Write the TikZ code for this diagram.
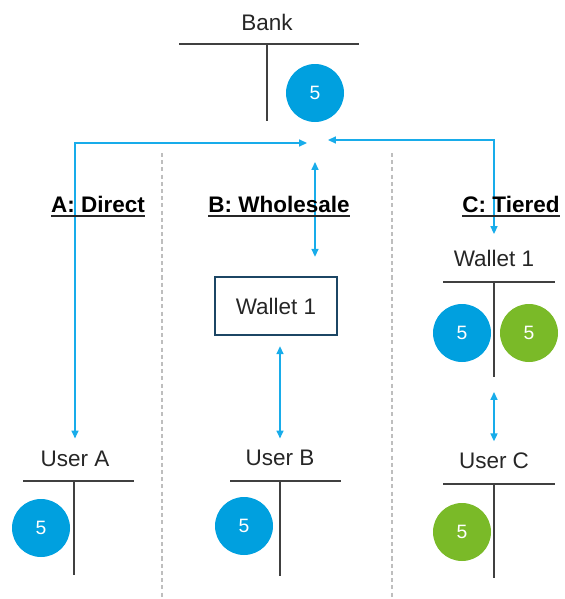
\documentclass[tikz,border=0pt]{standalone}
\usepackage{fontspec}
\setmainfont{Liberation Sans}
\usepackage{tikz}
\usetikzlibrary{arrows.meta}
\definecolor{coinblue}{RGB}{0,160,223}
\definecolor{coingreen}{RGB}{122,186,40}
\definecolor{flowblue}{RGB}{24,172,234}
\definecolor{boxnavy}{RGB}{28,70,100}
\definecolor{rulegray}{RGB}{64,64,64}
\definecolor{sepgray}{RGB}{190,190,190}

\begin{document}
\begin{tikzpicture}[>={Triangle[length=4.5pt,width=4pt]},
    acct/.style={font=\fontsize{12.8}{15}\selectfont, text=black!85},
    head/.style={font=\fontsize{12.8}{15}\selectfont\bfseries, inner sep=0pt, anchor=base},
    coin/.style={circle, minimum size=1.16cm, inner sep=0pt, text=white,
                 font=\fontsize{11}{13}\selectfont},
    tline/.style={draw=rulegray, line width=0.85pt},
    flow/.style={draw=flowblue, line width=0.85pt, <->},
    sepline/.style={draw=sepgray, line width=0.6pt, dash pattern=on 2.3pt off 1.8pt}]

  \useasboundingbox (0,0) rectangle (11.3,-11.98);

  % central bank account
  \node[acct] (bank) at (5.34,-0.44) {Bank};
  \draw[tline] (3.58,-0.88) -- (7.18,-0.88);
  \draw[tline] (5.34,-0.88) -- (5.34,-2.42);
  \node[coin, fill=coinblue] (bankcoin) at (6.30,-1.86) {5};

  \coordinate (hubA) at (6.14,-2.86);
  \coordinate (hubB) at (6.30,-3.24);
  \coordinate (hubC) at (6.56,-2.80);

  % column separators
  \draw[sepline] (3.24,-3.06) -- (3.24,-11.98);
  \draw[sepline] (7.84,-3.06) -- (7.84,-11.98);

  % A: direct
  \node[acct] (usera) at (1.50,-9.18) {User A};
  \draw[tline] (0.46,-9.62) -- (2.68,-9.62);
  \draw[tline] (1.48,-9.62) -- (1.48,-11.50);
  \node[coin, fill=coinblue] (coina) at (0.82,-10.56) {5};
  \draw[flow, shorten >=0.13cm] (hubA) -| (usera.north);

  % B: wholesale
  \node[draw=boxnavy, line width=1.4pt, minimum width=2.44cm, minimum height=1.16cm,
        acct] (walletb) at (5.52,-6.12) {Wallet 1};
  \node[acct] (userb) at (5.60,-9.16) {User B};
  \draw[tline] (4.60,-9.62) -- (6.82,-9.62);
  \draw[tline] (5.60,-9.62) -- (5.60,-11.52);
  \node[coin, fill=coinblue] (coinb) at (4.88,-10.52) {5};
  \draw[flow, shorten >=0.38cm] (hubB) -- (hubB |- walletb.north);
  \draw[flow, shorten <=0.2cm, shorten >=0.11cm] (walletb.south -| userb.north) -- (userb.north);

  % C: tiered
  \node[acct] (walletc) at (9.88,-5.16) {Wallet 1};
  \draw[tline] (8.86,-5.64) -- (11.10,-5.64);
  \draw[tline] (9.88,-5.64) -- (9.88,-7.54) coordinate (wcbot);
  \node[coin, fill=coinblue] (coinc1) at (9.24,-6.66) {5};
  \node[coin, fill=coingreen] (coinc2) at (10.58,-6.66) {5};
  \node[acct] (userc) at (9.88,-9.22) {User C};
  \draw[tline] (8.86,-9.68) -- (11.10,-9.68);
  \draw[tline] (9.88,-9.68) -- (9.88,-11.56);
  \node[coin, fill=coingreen] (coinc3) at (9.24,-10.64) {5};
  \draw[flow, shorten >=0.19cm] (hubC) -| (walletc.north);
  \draw[flow, shorten <=0.3cm, shorten >=0.11cm] (wcbot -| userc.north) -- (userc.north);

  % column headings
  \node[head] (heada) at (1.96,-4.24) {A: Direct};
  \node[head] (headb) at (5.58,-4.24) {B: Wholesale};
  \node[head] (headc) at (10.22,-4.24) {C: Tiered};
  \foreach \h in {heada,headb,headc}
    \draw[line width=1.1pt, black!85] ([yshift=-2.4pt]\h.base west) -- ([yshift=-2.4pt]\h.base east);

\end{tikzpicture}
\end{document}
